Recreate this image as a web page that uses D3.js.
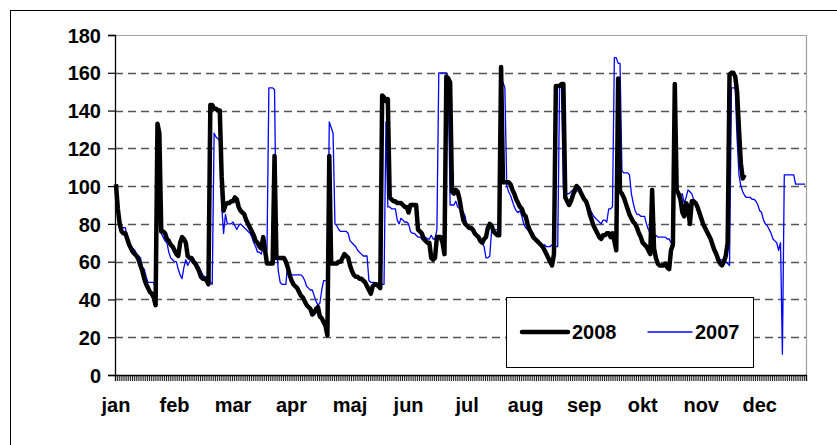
<!DOCTYPE html>
<html><head><meta charset="utf-8">
<script src="https://cdn.jsdelivr.net/npm/d3@7"></script>
<style>
html,body{margin:0;padding:0;background:#fff;}
svg{display:block;}
text{font-family:"Liberation Sans",Arial,sans-serif;font-weight:bold;fill:#000;}
</style></head>
<body>
<svg id="chart" width="837" height="445"></svg>
<script>
// ---- data ----
const monthLabels = ["jan","feb","mar","apr","maj","jun","jul","aug","sep","okt","nov","dec"];
const labelEvery = 31;
const dayCount = 366;
const yTicks = [0,20,40,60,80,100,120,140,160,180];
const seriesNames = ["2008","2007"];

const values2008 = [
101,88,80,76,75,75,72,69,67,65,
64,63,61,58,55,51,48,46,44,43,
41,37,133,128,76,76,75,72,71,69,
68,66,64,63,70,73,72,70,63,62,
62,60,59,57,55,52,51,51,50,48,
143,143,141,141,140,140,105,87,90,91,
91,92,92,94,93,89,87,86,85,82,
80,78,76,74,71,70,68,67,73,66,
59,59,59,59,116,62,62,62,62,62,
60,57,53,50,48,47,46,44,42,41,
39,37,36,35,32,33,35,36,31,30,
28,26,21,116,59,59,59,59,60,60,
62,64,63,62,58,55,53,52,52,51,
51,50,49,47,45,43,47,48,48,47,
46,148,147,145,146,94,93,92,92,91,
91,91,90,89,89,86,90,90,90,90,
77,76,75,72,71,70,70,62,61,62,
73,73,73,70,64,158,157,155,97,96,
98,97,93,87,82,80,79,78,78,77,
75,74,73,71,70,72,73,78,80,79,
76,75,74,74,163,102,102,102,102,101,
98,96,93,91,89,88,85,84,80,77,
75,73,72,71,70,69,68,66,64,62,
60,58,64,153,153,153,154,154,94,92,
90,92,95,98,100,99,97,95,93,92,
89,85,82,79,77,75,73,72,74,74,
75,75,73,75,71,66,157,97,96,94,
91,88,85,83,81,80,78,75,73,70,
69,68,66,64,98,67,62,59,58,58,
58,59,57,56,66,69,154,98,96,93,
86,84,91,89,80,92,92,91,89,86,
83,80,78,76,74,72,69,66,64,61,
59,58,60,63,70,159,160,160,158,150,
130,112,104,106
];

const values2007 = [
96,85,80,78,78,78,72,69,67,67,
66,64,63,62,57,56,52,49,49,49,
49,45,126,80,75,73,71,70,65,62,
61,60,60,56,53,51,57,61,58,60,
62,62,60,59,57,55,53,52,52,51,
49,48,128,126,125,124,90,75,85,80,
80,80,81,79,77,79,80,79,78,77,
76,75,73,70,68,65,65,64,68,66,
66,152,152,152,151,70,55,49,48,48,
48,59,53,53,53,53,53,53,53,52,
50,47,46,45,45,42,39,37,38,45,
50,50,50,134,131,128,80,79,77,76,
76,76,76,75,71,70,69,68,66,65,
64,63,63,63,50,49,49,49,48,48,
48,48,48,134,89,89,88,88,88,82,
80,83,82,81,81,80,76,75,75,74,
73,73,72,71,73,72,72,74,72,72,
77,160,160,160,160,160,157,90,90,90,
92,89,88,87,86,84,78,77,77,76,
75,74,72,71,70,68,62,62,63,77,
77,77,77,78,150,155,152,100,97,95,
92,89,87,86,87,84,80,78,77,77,
76,75,73,72,71,68,68,69,68,68,
68,69,68,68,68,154,153,98,97,96,
96,97,98,97,97,100,99,95,94,92,
90,88,86,84,83,82,81,80,82,82,
81,88,88,89,168,168,165,165,108,107,
107,107,106,96,91,87,85,85,84,84,
84,80,77,75,71,72,74,73,73,73,
73,73,72,72,70,72,154,97,96,95,
96,91,94,98,97,96,93,91,87,84,
82,80,78,77,75,73,70,67,65,63,
61,61,60,60,59,58,152,152,152,125,
106,100,97,95,94,94,94,93,93,92,
90,87,86,82,80,79,77,75,72,71,
70,66,70,11,106,106,106,106,106,106,
101,101,101,101,101,101
];

// ---- layout ----
const svg = d3.select("#chart");
const L = 115, R = 806, T = 35, B = 375;

svg.append("rect").attr("x",10.5).attr("y",10.5).attr("width",900).attr("height",500)
  .attr("fill","#fff").attr("stroke","#000").attr("stroke-width",1);

const days = d3.range(dayCount);
const xb = d3.scaleBand().domain(days).range([L,R]).padding(0);
const bw = xb.bandwidth();
const xc = i => xb(i) + bw/2;
const xEdge = d3.scaleLinear().domain([0,dayCount]).range([L,R]);
const y = d3.scaleLinear().domain([0,180]).range([B,T]);

// plot border (top/right)
svg.append("path").attr("d",`M${L},${T+0.5}H${R+0.5}V${B}`)
  .attr("fill","none").attr("stroke","#a0a0a0").attr("stroke-width",1.2);

// gridlines
svg.append("g").selectAll("line").data(yTicks.filter(v=>v>0 && v<180)).join("line")
  .attr("x1",L).attr("x2",R).attr("y1",d=>Math.round(y(d))+0.5).attr("y2",d=>Math.round(y(d))+0.5)
  .attr("stroke","#555").attr("stroke-width",1.3).attr("stroke-dasharray","8,5");

// y axis
const gy = svg.append("g").attr("transform",`translate(${L},0)`)
  .call(d3.axisLeft(y).tickValues(yTicks).tickSize(7).tickPadding(7).tickFormat(d3.format("d")));
gy.select(".domain").attr("stroke","#000").attr("stroke-width",1.3);
gy.selectAll(".tick line").attr("stroke","#000").attr("stroke-width",1.2);
gy.selectAll("text").attr("font-size",20).attr("font-family",null).attr("dy","0.36em");

// x axis ticks (between categories)
const gx = svg.append("g").attr("transform",`translate(0,${B})`)
  .call(d3.axisBottom(xEdge).tickValues(d3.range(dayCount+1)).tickSize(6).tickFormat(""));
gx.select(".domain").attr("stroke","#000").attr("stroke-width",1.3);
gx.selectAll(".tick line").attr("stroke","#000").attr("stroke-width",0.9);

// month labels
const gm = svg.append("g").attr("transform",`translate(0,${B})`)
  .call(d3.axisBottom(xb).tickValues(d3.range(0,dayCount,labelEvery)).tickSize(0).tickPadding(23)
    .tickFormat(i => monthLabels[i/labelEvery]));
gm.select(".domain").remove();
gm.selectAll("text").attr("font-size",20).attr("font-family",null);

// lines
const line = d3.line().x((v,i)=>xc(i)).y(v=>y(v));
svg.append("path").datum(values2007).attr("d",line).attr("fill","none")
  .attr("stroke","#0000ff").attr("stroke-width",1.3).attr("stroke-linejoin","round");
svg.append("path").datum(values2008).attr("d",line).attr("fill","none")
  .attr("stroke","#000").attr("stroke-width",4.5).attr("stroke-linejoin","round");

// legend
const lg = svg.append("g");
lg.append("rect").attr("x",506.5).attr("y",297.5).attr("width",247).attr("height",70)
  .attr("fill","#fff").attr("stroke","#000").attr("stroke-width",1);
const legendItems = [
  {name:seriesNames[0], color:"#000", w:4.5, x1:522, x2:568, tx:572},
  {name:seriesNames[1], color:"#0000ff", w:1.3, x1:648, x2:692, tx:695}
];
legendItems.forEach(d=>{
  lg.append("line").attr("x1",d.x1).attr("x2",d.x2).attr("y1",332).attr("y2",332)
    .attr("stroke",d.color).attr("stroke-width",d.w).attr("stroke-linecap","round");
  lg.append("text").attr("x",d.tx).attr("y",339).attr("font-size",20).text(d.name);
});
</script>
</body></html>
